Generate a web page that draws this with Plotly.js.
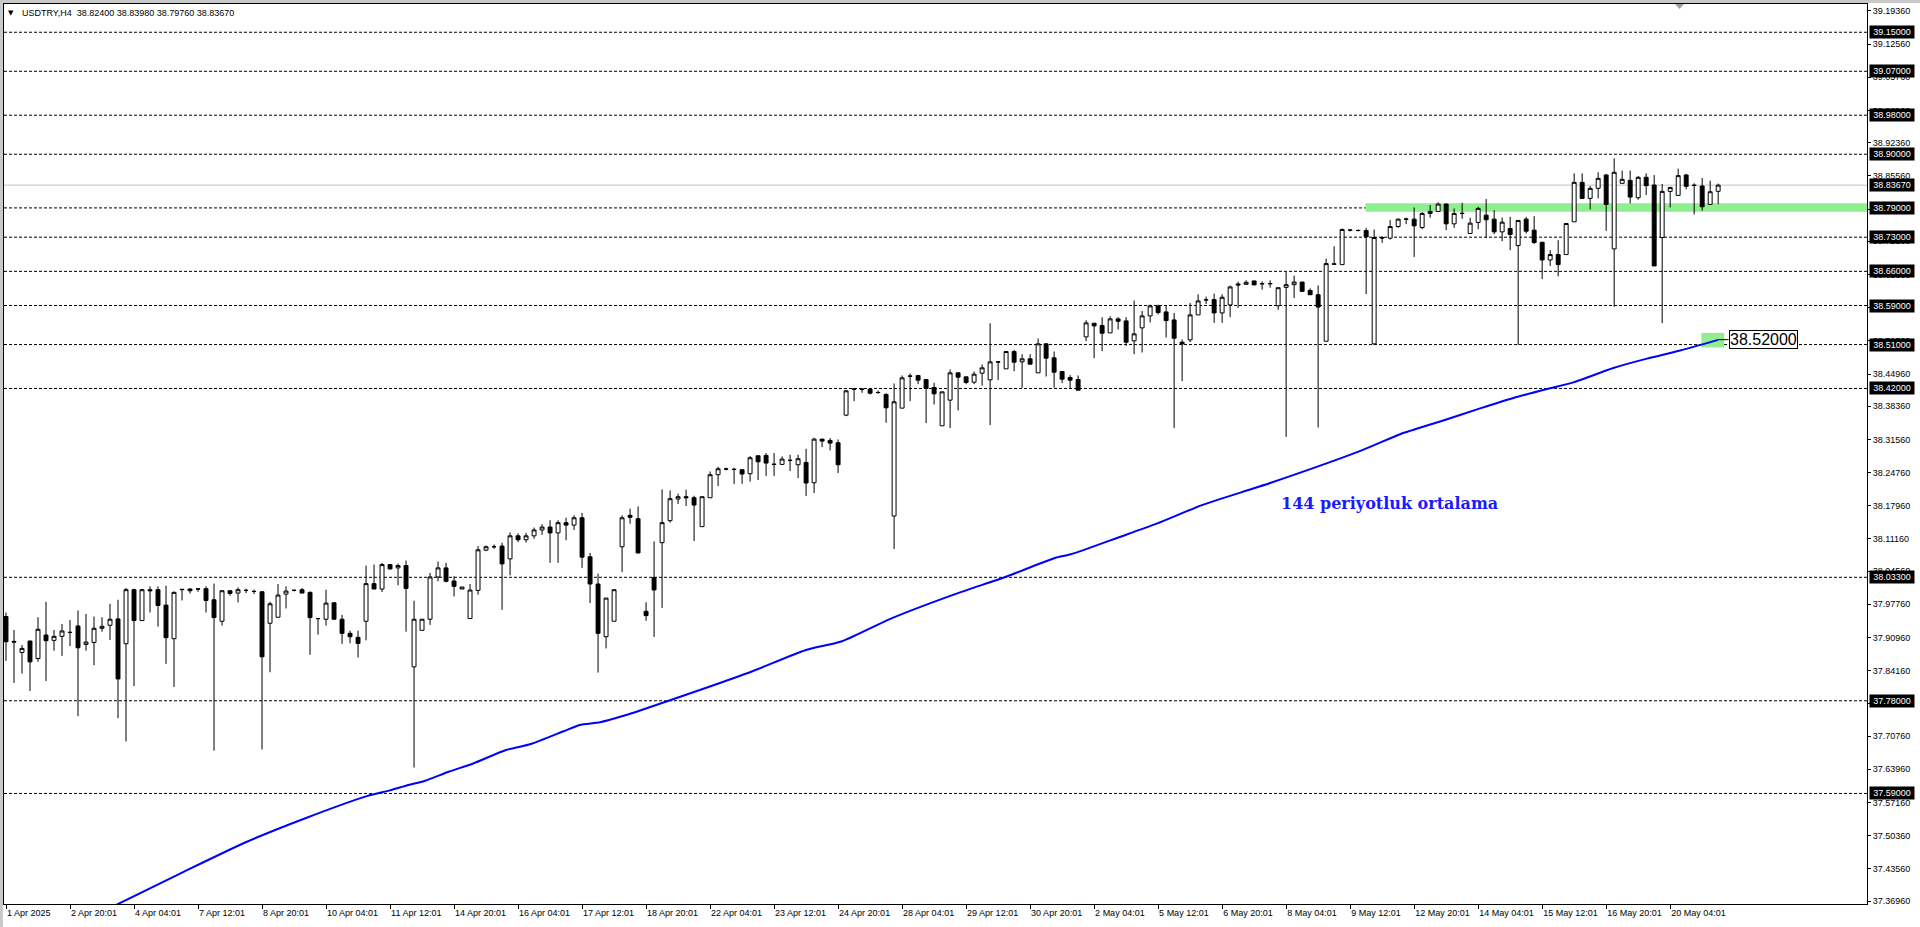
<!DOCTYPE html>
<html><head><meta charset="utf-8">
<script src="https://cdn.plot.ly/plotly-3.0.1.min.js"></script>
<style>html,body{margin:0;padding:0;background:#fff;overflow:hidden}#chart{width:1920px;height:927px}</style>
</head><body><div id="chart"></div>
<script>
// USDTRY H4 bars (index 0 = first visible bar)
const openP = [37.9526,37.9017,37.8790,37.9024,37.8666,37.9148,37.9038,37.9120,37.9203,37.9333,
37.8955,37.8996,37.9285,37.9347,37.9478,37.8969,38.0076,37.9443,38.0076,38.0076,
37.9760,37.9072,38.0076,38.0090,38.0090,38.0096,37.9870,37.9430,38.0055,38.0007,
38.0062,38.0041,38.0034,37.9388,37.9512,37.9986,38.0062,38.0076,38.0021,37.9485,
37.9471,37.9808,37.9471,37.9182,37.9100,37.9430,38.0200,38.0090,38.0591,38.0523,
38.0571,37.8495,37.9244,37.9471,38.0337,38.0523,38.0255,38.0090,37.9485,38.0062,
38.0887,38.0956,38.0970,38.0708,38.1180,38.1100,38.1180,38.1300,38.1360,38.1240,
38.1450,38.1400,38.1550,38.0750,38.0193,37.9113,37.9430,38.0956,38.1600,38.1531,
37.9634,38.0324,38.1040,38.1491,38.1934,38.1982,38.1961,38.1368,38.1961,38.2432,
38.2548,38.2545,38.2535,38.2453,38.2821,38.2828,38.2648,38.2644,38.2728,38.2637,
38.2685,38.2268,38.3162,38.3135,38.3087,38.3654,38.4188,38.4186,38.4186,38.4118,
38.4077,38.1586,38.3797,38.4455,38.4466,38.4384,38.4220,38.3435,38.3961,38.4520,
38.4438,38.4329,38.4513,38.4377,38.4745,38.4602,38.4957,38.4745,38.4807,38.4520,
38.5114,38.4827,38.4548,38.4425,38.4384,38.5257,38.5537,38.5489,38.5339,38.5626,
38.5585,38.5175,38.5442,38.5687,38.5892,38.5769,38.5605,38.5148,38.5196,38.5708,
38.6018,38.6022,38.5749,38.5912,38.6342,38.6335,38.6404,38.6347,38.6350,38.5895,
38.6272,38.6327,38.6381,38.6210,38.6121,38.5168,38.6745,38.6738,38.7446,38.7439,
38.7437,38.5114,38.7288,38.7280,38.7519,38.7672,38.7670,38.7499,38.7787,38.7828,
38.7979,38.7574,38.7789,38.7376,38.7602,38.7752,38.7670,38.7410,38.7478,38.7129,
38.7670,38.7444,38.7197,38.6834,38.6944,38.6944,38.7615,38.8424,38.8095,38.8301,
38.8575,38.7060,38.8404,38.8465,38.8109,38.8527,38.8369,38.7293,38.8239,38.8157,
38.8575,38.8364,38.8349,38.7972,38.8240];
const highP = [37.9608,37.9251,37.8941,37.9030,37.9512,37.9828,37.9251,37.9375,37.9457,37.9650,
37.9581,37.9526,37.9512,37.9787,37.9870,38.0110,38.0096,38.0096,38.0145,38.0145,
38.0158,38.0041,38.0090,38.0110,38.0110,38.0145,38.0200,38.0062,38.0055,38.0124,
38.0096,38.0076,38.0041,37.9828,38.0193,38.0145,38.0076,38.0110,38.0041,37.9490,
38.0076,37.9808,37.9560,37.9237,37.9237,38.0571,38.0591,38.0626,38.0591,38.0612,
38.0674,37.9849,37.9471,38.0420,38.0653,38.0626,38.0351,38.0131,38.0193,38.0970,
38.0983,38.1004,38.1040,38.1250,38.1230,38.1240,38.1350,38.1420,38.1500,38.1500,
38.1550,38.1600,38.1650,38.0830,38.0406,37.9904,38.0076,38.1600,38.1736,38.1784,
37.9819,38.1067,38.2132,38.2112,38.2043,38.2125,38.2002,38.1982,38.2500,38.2596,
38.2576,38.2576,38.2535,38.2814,38.2821,38.2876,38.2876,38.2808,38.2842,38.2842,
38.2964,38.3190,38.3162,38.3183,38.3156,38.4172,38.4200,38.4190,38.4206,38.4159,
38.4104,38.4302,38.4466,38.4507,38.4479,38.4384,38.4316,38.4131,38.4589,38.4520,
38.4438,38.4548,38.4691,38.5537,38.4748,38.4957,38.4991,38.4902,38.4902,38.5223,
38.5128,38.4957,38.4548,38.4473,38.4466,38.5599,38.5537,38.5660,38.5680,38.5660,
38.5660,38.6001,38.5790,38.5919,38.5919,38.5912,38.5749,38.5203,38.5953,38.6131,
38.6083,38.6144,38.6131,38.6308,38.6390,38.6417,38.6404,38.6395,38.6416,38.6265,
38.6587,38.6512,38.6381,38.6251,38.6313,38.6861,38.7115,38.7478,38.7465,38.7460,
38.7492,38.7458,38.7321,38.7650,38.7684,38.7698,38.7910,38.7814,38.7958,38.8013,
38.7992,38.7890,38.8006,38.7698,38.7924,38.8081,38.7855,38.7704,38.7718,38.7643,
38.7718,38.7732,38.7197,38.7033,38.7238,38.7581,38.8609,38.8609,38.8349,38.8630,
38.8596,38.8918,38.8664,38.8664,38.8554,38.8609,38.8575,38.8390,38.8321,38.8705,
38.8596,38.8404,38.8513,38.8458,38.8398];
const lowP = [37.8618,37.8165,37.8357,37.8000,37.8598,37.8206,37.8825,37.8721,37.8921,37.7484,
37.8825,37.8529,37.9216,37.9045,37.7443,37.6968,37.8103,37.9443,37.9608,37.9320,
37.8556,37.8082,37.9856,37.9999,38.0034,37.9608,37.6776,37.9340,37.9952,37.9814,
38.0007,37.9986,37.6803,37.8385,37.9512,37.9691,38.0041,38.0007,37.8742,37.9155,
37.9340,37.9471,37.8966,37.8976,37.8687,37.9038,38.0090,38.0028,38.0488,38.0165,
37.9216,37.6432,37.9244,37.9354,38.0248,38.0227,37.9938,38.0090,37.9485,37.9973,
38.0866,38.0914,37.9663,38.0371,38.1050,38.1040,38.1120,38.1200,38.0626,38.0626,
38.1090,38.1300,38.0523,37.9801,37.8378,37.8873,37.9430,38.0440,38.1429,38.0820,
37.9437,37.9109,37.9703,38.1450,38.1832,38.1791,38.1074,38.1368,38.1961,38.2200,
38.2521,38.2241,38.2248,38.2289,38.2323,38.2405,38.2405,38.2630,38.2507,38.2364,
38.1996,38.2057,38.2998,38.2930,38.2466,38.3633,38.3940,38.4111,38.4077,38.4090,
38.3497,38.0910,38.3797,38.3940,38.4288,38.3490,38.3872,38.3435,38.3388,38.3749,
38.4288,38.4288,38.4261,38.3449,38.4370,38.4602,38.4554,38.4213,38.4698,38.4520,
38.4445,38.4220,38.4309,38.4206,38.4165,38.5169,38.4821,38.4964,38.5339,38.5407,
38.5073,38.4902,38.4937,38.5551,38.5715,38.5244,38.3388,38.4350,38.5148,38.5708,
38.5933,38.5544,38.5544,38.5660,38.5851,38.6335,38.6322,38.6224,38.6265,38.5813,
38.3208,38.6053,38.6176,38.6121,38.3400,38.5168,38.6745,38.6738,38.7417,38.7417,
38.6135,38.5093,38.7184,38.7252,38.7492,38.7567,38.6896,38.7465,38.7698,38.7828,
38.7444,38.7492,38.7677,38.7376,38.7465,38.7286,38.7362,38.7218,38.7033,38.5093,
38.7376,38.7163,38.6443,38.6711,38.6498,38.6944,38.7615,38.8081,38.7869,38.8095,
38.7430,38.5874,38.8404,38.7992,38.8068,38.8164,38.6711,38.5539,38.7910,38.8157,
38.8280,38.7766,38.7842,38.7972,38.7976];
const closeP = [37.9010,37.9003,37.8873,37.8598,37.9265,37.9031,37.9120,37.9230,37.9200,37.8886,
37.9003,37.9285,37.9326,37.9471,37.8247,38.0076,37.9443,38.0076,38.0055,37.9753,
37.9093,38.0021,38.0083,38.0055,38.0092,37.9856,37.9505,38.0055,38.0000,38.0076,
38.0062,38.0040,37.8701,37.9787,37.9966,38.0048,38.0063,38.0007,37.9505,37.9484,
37.9801,37.9471,37.9182,37.9113,37.8976,38.0200,38.0090,38.0591,38.0502,38.0571,
38.0103,37.9471,37.9471,38.0337,38.0523,38.0248,38.0145,38.0131,38.0069,38.0894,
38.0956,38.0957,38.0605,38.1180,38.1100,38.1180,38.1300,38.1360,38.1240,38.1450,
38.1400,38.1550,38.0743,38.0193,37.9182,37.9904,38.0076,38.1550,38.1560,38.0829,
37.9545,38.0071,38.1450,38.1941,38.1982,38.1961,38.1811,38.1982,38.2432,38.2555,
38.2550,38.2540,38.2446,38.2780,38.2698,38.2671,38.2644,38.2753,38.2726,38.2760,
38.2262,38.3162,38.3121,38.3080,38.2637,38.4152,38.4186,38.4184,38.4104,38.4118,
38.3804,38.3927,38.4418,38.4452,38.4370,38.4200,38.4090,38.4131,38.4520,38.4432,
38.4322,38.4493,38.4623,38.4745,38.4742,38.4957,38.4739,38.4807,38.4698,38.5114,
38.4821,38.4534,38.4391,38.4370,38.4165,38.5544,38.5483,38.5332,38.5626,38.5578,
38.5148,38.5319,38.5687,38.5892,38.5755,38.5592,38.5230,38.5114,38.5708,38.5994,
38.6015,38.5749,38.6069,38.6281,38.6322,38.6376,38.6322,38.6345,38.6347,38.6265,
38.6327,38.6381,38.6190,38.6121,38.5868,38.6759,38.6752,38.7458,38.7444,38.7437,
38.7307,38.7293,38.7286,38.7519,38.7670,38.7670,38.7533,38.7787,38.7828,38.7979,
38.7574,38.7787,38.7787,38.7588,38.7890,38.7657,38.7410,38.7608,38.7355,38.7643,
38.7423,38.7190,38.6834,38.6944,38.6738,38.7581,38.8424,38.8095,38.8301,38.8506,
38.7972,38.8630,38.8486,38.8123,38.8527,38.8356,38.6711,38.8239,38.8321,38.8561,
38.8342,38.8362,38.7924,38.8232,38.8367];

// 144-period moving average, read at bar positions
const maBar = [13.5,22.2,29.9,37.5,45.2,48.0,50.3,52.3,55.4,58.4,62.5,65.6,69.7,71.7,74.25,77.3,79.25,
86.9,93.3,99.9,104.5,110.6,118.8,124.9,131.1,133.1,139.2,143.8,149.4,158,169.6,174.25,179.25,
184.25,188.4,192.6,195.9,200.9,205.1,209.25,214];
const maValue = [37.3594,37.4295,37.4896,37.5398,37.5851,37.5964,37.6075,37.6157,37.6350,37.6515,37.6790,37.6913,37.7175,37.7305,37.7360,37.7498,37.7601,
37.8031,37.8406,37.8836,37.9020,37.9484,37.9996,38.0337,38.0726,38.0801,38.1156,38.1429,38.1804,38.2262,38.2941,38.3263,38.3524,
38.3791,38.4003,38.4188,38.4325,38.4620,38.4812,38.4977,38.5196];

// x-axis date labels, one every 8 bars
const xTickLabels = ['1 Apr 2025','2 Apr 20:01','4 Apr 04:01','7 Apr 12:01','8 Apr 20:01','10 Apr 04:01','11 Apr 12:01',
'14 Apr 20:01','16 Apr 04:01','17 Apr 12:01','18 Apr 20:01','22 Apr 04:01','23 Apr 12:01','24 Apr 20:01','28 Apr 04:01',
'29 Apr 12:01','30 Apr 20:01','2 May 04:01','5 May 12:01','6 May 20:01','8 May 04:01','9 May 12:01','12 May 20:01',
'14 May 04:01','15 May 12:01','16 May 20:01','20 May 04:01'];
const xTickBars = [0,8,16,24,32,40,48,56,64,72,80,88,96,104,112,120,128,136,144,152,160,168,176,184,192,200,208];

// price-scale tick labels
const yTickVals = [39.1936,39.1256,39.0576,38.9896,38.9236,38.8556,38.7876,38.7216,38.6536,38.5856,38.5176,38.4496,
38.3836,38.3156,38.2476,38.1796,38.1116,38.0456,37.9776,37.9096,37.8416,37.7736,37.7076,37.6396,37.5716,37.5036,37.4356,37.3696];

// horizontal levels (dashed) and current bid
const levels = [39.15,39.07,38.98,38.90,38.79,38.73,38.66,38.59,38.51,38.42,38.033,37.78,37.59];
const bid = 38.8367;
const maLast = 38.52;
const titleText = 'USDTRY,H4\u00a0\u00a038.82400 38.83980 38.79760 38.83670';
const maLabel = '144 periyotluk ortalama';

const barIdx = openP.map((_, i) => i);
const FONT = 'Liberation Sans, Arial, sans-serif';

const traces = [
  {type:'candlestick', x:barIdx, open:openP, high:highP, low:lowP, close:closeP,
   increasing:{line:{color:'#000', width:1}, fillcolor:'#ffffff'},
   decreasing:{line:{color:'#000', width:1}, fillcolor:'#000000'},
   whiskerwidth:0, hoverinfo:'skip', showlegend:false},
  {type:'scatter', mode:'lines', x:maBar, y:maValue, line:{color:'#0000ff', width:2, shape:'spline', smoothing:0.6},
   hoverinfo:'skip', showlegend:false}
];

const shapes = [];
// green zone around 38.79
shapes.push({type:'rect', xref:'x', yref:'y', x0:169.9, x1:232.6, y0:38.782, y1:38.7998,
  fillcolor:'#90ee90', line:{width:0}, layer:'below'});
levels.forEach(v => shapes.push({type:'line', xref:'paper', yref:'y', x0:0, x1:1, y0:v, y1:v,
  line:{color:'#000', width:1, dash:'3px,2px'}, layer:'below'}));
shapes.push({type:'line', xref:'paper', yref:'y', x0:0, x1:1, y0:bid, y1:bid,
  line:{color:'#c0c0c0', width:1}, layer:'below'});
// green marker at MA end and connector to its label
shapes.push({type:'rect', xref:'x', yref:'y', x0:211.9, x1:214.75, y0:38.5041, y1:38.5338,
  fillcolor:'#90ee90', line:{width:0}, layer:'below'});
shapes.push({type:'line', xref:'x', yref:'y', x0:214, x1:215.3, y0:maLast, y1:maLast,
  line:{color:'#000', width:1}});
// window frame pieces
shapes.push({type:'rect', xref:'paper', yref:'paper', x0:-0.01, x1:1.1, y0:1.0012, y1:1.01,
  fillcolor:'#c8c8c8', line:{width:0}});
shapes.push({type:'rect', xref:'paper', yref:'paper', x0:-0.01, x1:-0.0006, y0:-0.1, y1:1.01,
  fillcolor:'#c8c8c8', line:{width:0}});
shapes.push({type:'rect', xref:'paper', yref:'paper', x0:-0.01, x1:1.1, y0:-0.0256, y1:-0.03,
  fillcolor:'#ececec', line:{width:0}});
shapes.push({type:'path', xref:'paper', yref:'paper', path:'M 0.8969 1 L 0.9018 1 L 0.8994 0.9944 Z',
  fillcolor:'#a0a0a0', line:{width:0}});

const annotations = [];
levels.concat([bid]).forEach(v => annotations.push({xref:'paper', yref:'y', x:1.0011, y:v,
  xanchor:'left', yanchor:'middle', text:v.toFixed(5), showarrow:false, bgcolor:'#000',
  font:{family:FONT, size:9, color:'#fff'}, width:42, height:10, borderpad:1}));
annotations.push({xref:'x', yref:'y', x:215.3, y:maLast, xanchor:'left', yanchor:'middle',
  text:maLast.toFixed(5), showarrow:false, bgcolor:'#fff', bordercolor:'#000', borderwidth:1, borderpad:0,
  font:{family:FONT, size:16, color:'#000'}});
annotations.push({xref:'x', yref:'y', x:172.9, y:38.1839, xanchor:'center', yanchor:'middle',
  text:maLabel, showarrow:false, font:{family:'DejaVu Serif, serif', size:16, color:'#1a1aff', weight:'bold'}});
annotations.push({xref:'paper', yref:'paper', x:0.0086, y:0.99, xanchor:'left', yanchor:'middle',
  text:titleText, showarrow:false, font:{family:FONT, size:9, color:'#000'}});
annotations.push({xref:'paper', yref:'paper', x:0.004, y:0.99, xanchor:'center', yanchor:'middle',
  text:'\u25BC', showarrow:false, font:{family:'DejaVu Sans', size:7, color:'#000'}});

const layout = {
  width:1920, height:927, margin:{l:4, r:53, t:4, b:23},
  paper_bgcolor:'#ffffff', plot_bgcolor:'#ffffff', showlegend:false, dragmode:false,
  xaxis:{range:[-0.25, 232.6], showgrid:false, zeroline:false, rangeslider:{visible:false},
    tickmode:'array', tickvals:xTickBars, ticktext:xTickLabels, ticks:'outside', ticklen:4,
    tickcolor:'#000', tickwidth:1, showline:true, linecolor:'#000', linewidth:1, mirror:true,
    ticklabelposition:'outside right', tickangle:0,
    tickfont:{family:FONT, size:9, color:'#000'}, fixedrange:true},
  yaxis:{side:'right', range:[37.3635, 39.2079], showgrid:false, zeroline:false,
    tickmode:'array', tickvals:yTickVals, ticktext:yTickVals.map(v => v.toFixed(5)),
    ticks:'outside', ticklen:3, tickcolor:'#000', showline:true, linecolor:'#000', linewidth:1, mirror:true,
    tickfont:{family:FONT, size:9, color:'#000'}, fixedrange:true},
  shapes:shapes, annotations:annotations
};

Plotly.newPlot('chart', traces, layout, {displayModeBar:false, staticPlot:true});
</script></body></html>
